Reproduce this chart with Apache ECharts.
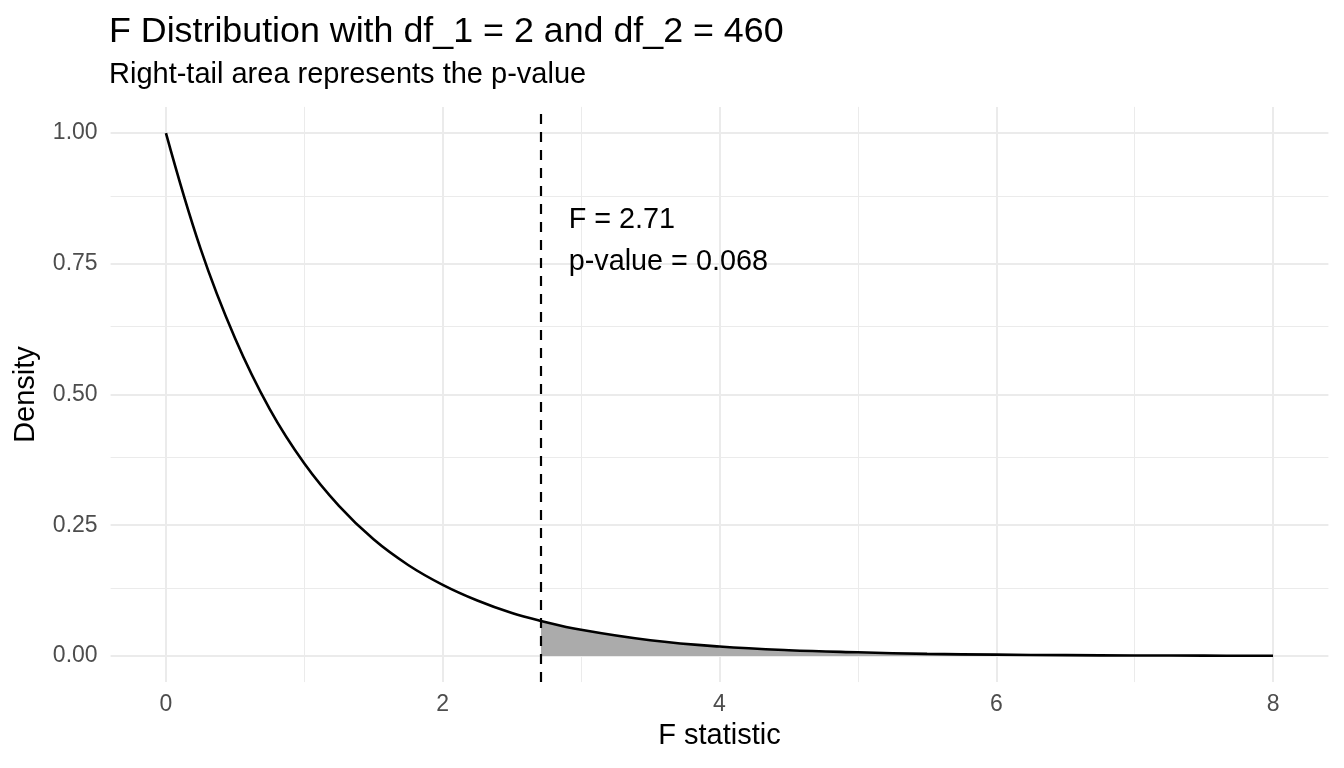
<!DOCTYPE html>
<html>
<head>
<meta charset="utf-8">
<script src="https://cdn.jsdelivr.net/npm/echarts@6/dist/echarts.min.js"></script>
<style>
  html, body { margin: 0; padding: 0; background: #fff; }
  #chart { width: 1344px; height: 768px; }
</style>
</head>
<body>
<div id="chart"></div>
<script>
// values
var fValues = [0, 0.25, 0.5, 0.75, 1, 1.25, 1.5, 1.75, 2, 2.25, 2.5, 2.71, 3, 3.5, 4, 4.5, 5, 5.5, 6, 6.5, 7, 7.5, 8];
var densityValues = [1.000, 0.779, 0.607, 0.472, 0.368, 0.287, 0.223, 0.174, 0.136, 0.106, 0.082, 0.067, 0.050, 0.030, 0.018, 0.011, 0.007, 0.004, 0.0025, 0.0015, 0.0009, 0.0006, 0.0003];
var fObserved = 2.71;
var pValue = 0.068;
var xTicks = [0, 2, 4, 6, 8];
var xMinorTicks = [1, 3, 5, 7];
var yTicks = [0, 0.25, 0.5, 0.75, 1];
var yMinorTicks = [0.125, 0.375, 0.625, 0.875];
var labelLines = ['F = ' + fObserved.toFixed(2), 'p-value = ' + pValue.toFixed(3)];

var FONT = 'Liberation Sans';

var curve = [];
var tail = [];
for (var i = 0; i < fValues.length; i++) {
	curve.push([fValues[i], densityValues[i]]);
	if (fValues[i] >= fObserved) {
		tail.push([fValues[i], densityValues[i]]);
	}
}

// grid lines go through markLine so they sit at the exact tick values
var gridLines = [];
for (var i = 0; i < xTicks.length; i++) {
	gridLines.push({xAxis: xTicks[i], lineStyle: {width: 2}});
}
for (var i = 0; i < xMinorTicks.length; i++) {
	gridLines.push({xAxis: xMinorTicks[i], lineStyle: {width: 1}});
}
for (var i = 0; i < yTicks.length; i++) {
	gridLines.push({yAxis: yTicks[i], lineStyle: {width: 2}});
}
for (var i = 0; i < yMinorTicks.length; i++) {
	gridLines.push({yAxis: yMinorTicks[i], lineStyle: {width: 1}});
}

var chart = echarts.init(document.getElementById('chart'));
chart.setOption({
	backgroundColor: '#fff',
	animation: false,
	title: [{
		text: 'F Distribution with df_1 = 2 and df_2 = 460',
		left: 109,
		top: 14,
		padding: 0,
		textStyle: {fontFamily: FONT, fontSize: 35.8, fontWeight: 'normal', color: '#000'}
	}, {
		text: 'Right-tail area represents the p-value',
		left: 109,
		top: 60,
		padding: 0,
		textStyle: {fontFamily: FONT, fontSize: 29, fontWeight: 'normal', color: '#000'}
	}],
	grid: {left: 110.6, right: 15.6, top: 106.9, bottom: 85.9},
	xAxis: {
		type: 'value',
		min: -0.4,
		max: 8.4,
		name: 'F statistic',
		nameLocation: 'middle',
		nameGap: 39,
		nameTextStyle: {fontFamily: FONT, fontSize: 29, color: '#000'},
		axisLine: {show: false},
		axisTick: {show: false},
		splitLine: {show: false},
		axisLabel: {
			customValues: xTicks,
			margin: 11,
			fontFamily: FONT,
			fontSize: 23,
			color: '#4D4D4D'
		}
	},
	yAxis: {
		type: 'value',
		min: -0.05,
		max: 1.05,
		name: 'Density',
		nameLocation: 'middle',
		nameGap: 70,
		nameTextStyle: {fontFamily: FONT, fontSize: 29, color: '#000'},
		axisLine: {show: false},
		axisTick: {show: false},
		splitLine: {show: false},
		axisLabel: {
			customValues: yTicks,
			margin: 13,
			fontFamily: FONT,
			fontSize: 23,
			color: '#4D4D4D',
			formatter: function (v) { return v.toFixed(2); }
		}
	},
	series: [{
		name: 'grid',
		type: 'line',
		z: 1,
		silent: true,
		symbol: 'none',
		lineStyle: {opacity: 0},
		data: [[0, 0]],
		markLine: {
			z: 1,
			silent: true,
			symbol: 'none',
			label: {show: false},
			lineStyle: {color: '#EBEBEB', type: 'solid'},
			data: gridLines
		}
	}, {
		name: 'tail',
		type: 'line',
		z: 2,
		silent: true,
		symbol: 'none',
		smooth: 0.4,
		lineStyle: {width: 0},
		areaStyle: {color: '#ABABAB', opacity: 1, origin: 0},
		data: tail
	}, {
		name: 'density',
		type: 'line',
		z: 3,
		silent: true,
		symbol: 'none',
		smooth: 0.4,
		lineStyle: {color: '#000', width: 2.6},
		data: curve,
		markLine: {
			z: 4,
			silent: true,
			symbol: 'none',
			label: {show: false},
			lineStyle: {color: '#000', width: 2.2, type: [10, 8]},
			data: [{xAxis: fObserved}]
		}
	}, {
		name: 'annotation',
		type: 'scatter',
		z: 5,
		silent: true,
		symbolSize: 0,
		itemStyle: {opacity: 1},
		data: [[fObserved + 0.2, 0.794]],
		label: {
			show: true,
			position: 'right',
			distance: 0,
			formatter: labelLines.join('\n'),
			fontFamily: FONT,
			fontSize: 28.8,
			lineHeight: 42,
			color: '#000',
			opacity: 1
		}
	}]
});
</script>
</body>
</html>
